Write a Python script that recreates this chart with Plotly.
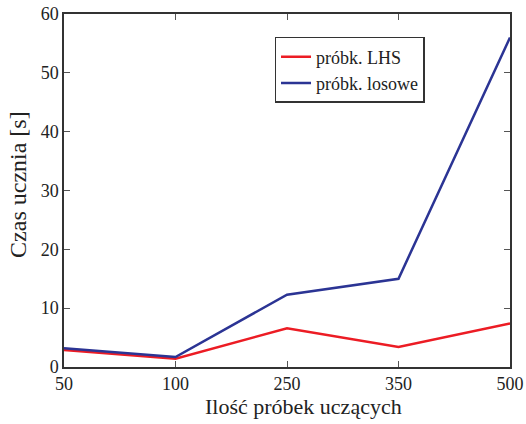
import plotly.graph_objects as go

probki = ["50", "100", "250", "350", "500"]
czas_lhs = [2.9, 1.4, 6.6, 3.4, 7.4]
czas_losowe = [3.2, 1.7, 12.3, 15.0, 56.0]

fig = go.Figure()
fig.add_trace(go.Scatter(x=probki, y=czas_lhs, mode="lines", name="próbk. LHS",
                         line=dict(color="#ec1c24", width=2.5)))
fig.add_trace(go.Scatter(x=probki, y=czas_losowe, mode="lines", name="próbk. losowe",
                         line=dict(color="#2b3494", width=2.5)))

axis = dict(showgrid=False, zeroline=False, showline=True, linecolor="#333",
            linewidth=1.5, mirror="ticks", ticks="inside", ticklen=6,
            tickcolor="#555", tickfont=dict(size=18, color="#222"))

fig.update_layout(
    width=526, height=424,
    margin=dict(l=64, r=16, t=14, b=57, autoexpand=False),
    paper_bgcolor="white", plot_bgcolor="white",
    font=dict(family="Liberation Serif", color="#222"),
    xaxis=dict(axis, type="category", range=[0, 4]),
    yaxis=dict(axis, range=[0, 60], dtick=10),
    legend=dict(x=0.472, y=0.935, xanchor="left", yanchor="top",
                bordercolor="#333", borderwidth=1.5, bgcolor="white",
                font=dict(size=18), tracegroupgap=0),
    showlegend=True,
)

# axis titles sit a little off-centre in the original, so place them by hand
fig.add_annotation(text="Ilość próbek uczących", xref="paper", yref="paper",
                   x=0.538, y=-0.113, xanchor="center", yanchor="middle",
                   showarrow=False, font=dict(size=22))
fig.add_annotation(text="Czas ucznia [s]", xref="paper", yref="paper",
                   x=-0.103, y=0.516, xanchor="center", yanchor="middle",
                   textangle=-90, showarrow=False, font=dict(size=24))

fig.write_html("out.html", config={"displayModeBar": False},
               post_script="document.body.style.margin='0';")
